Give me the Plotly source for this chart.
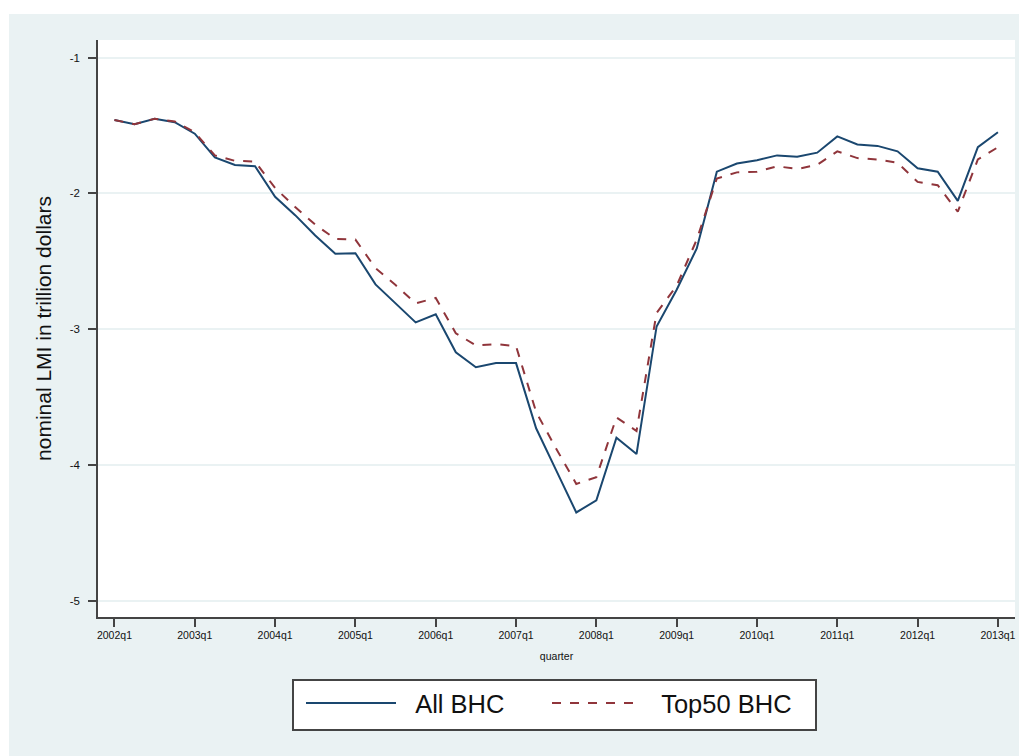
import plotly.graph_objects as go

quarters = [f"{y}q{q}" for y in range(2002, 2014) for q in range(1, 5)][:45]
all_bhc = [-1.46, -1.49, -1.45, -1.475, -1.56, -1.735, -1.79, -1.80, -2.025, -2.16,
           -2.31, -2.445, -2.44, -2.67, -2.81, -2.95, -2.89, -3.17, -3.28, -3.25,
           -3.25, -3.73, -4.04, -4.35, -4.26, -3.80, -3.92, -2.98, -2.71, -2.405,
           -1.84, -1.78, -1.755, -1.72, -1.73, -1.70, -1.58, -1.64, -1.65, -1.69,
           -1.815, -1.84, -2.055, -1.66, -1.55]
top50_bhc = [-1.46, -1.49, -1.45, -1.47, -1.55, -1.72, -1.76, -1.765, -1.96, -2.10,
             -2.23, -2.335, -2.34, -2.55, -2.675, -2.81, -2.77, -3.03, -3.12, -3.11,
             -3.125, -3.61, -3.88, -4.14, -4.09, -3.65, -3.75, -2.88, -2.68, -2.34,
             -1.89, -1.845, -1.84, -1.80, -1.82, -1.79, -1.69, -1.74, -1.75, -1.775,
             -1.915, -1.94, -2.135, -1.75, -1.66]
series_names = ["All BHC", "Top50 BHC"]
xtick_labels = [f"{y}q1" for y in range(2002, 2014)]
ytick_vals = [-1, -2, -3, -4, -5]

x_idx = list(range(len(quarters)))
xtick_pos = [x_idx[quarters.index(t)] for t in xtick_labels]

BG = "#eaf2f3"
REG = "Liberation Sans, Arial, Helvetica, sans-serif"
PAD = "\u00a0\u00a0"

fig = go.Figure()
fig.add_trace(go.Scatter(x=x_idx, y=all_bhc, mode="lines", name=PAD + series_names[0],
                         line=dict(color="#1a476f", width=2)))
fig.add_trace(go.Scatter(x=x_idx, y=top50_bhc, mode="lines", name=PAD + series_names[1],
                         line=dict(color="#90353b", width=2, dash="dash")))

PW, PH, ML, MB = 917, 577, 98, 139

fig.update_layout(
    width=1019, height=756,
    margin=dict(l=ML, r=4, t=40, b=MB),
    paper_bgcolor=BG, plot_bgcolor="white",
    font=dict(family=REG, color="#111"),
    showlegend=True,
    legend=dict(orientation="h", x=(301 - ML) / PW, xanchor="left", y=-0.109, yanchor="top",
                bgcolor="rgba(0,0,0,0)", borderwidth=0,
                font=dict(size=25.5, family=REG, color="#111"),
                itemwidth=90, entrywidth=141, tracegroupgap=0),
    xaxis=dict(range=[-0.82, 44.85], tickvals=xtick_pos, ticktext=xtick_labels,
               showgrid=False, zeroline=False, showline=True, linecolor="#444", linewidth=1.5,
               ticks="outside", ticklen=8, tickcolor="#444", tickwidth=1.5,
               tickfont=dict(size=10.5), mirror=False,
               title=dict(text="quarter", font=dict(size=10.5), standoff=12)),
    yaxis=dict(range=[-5.12, -0.87], tickvals=ytick_vals, ticktext=[str(v) for v in ytick_vals],
               showgrid=True, gridcolor=BG, gridwidth=1.5, zeroline=False,
               showline=True, linecolor="#444", linewidth=1.5,
               ticks="outside", ticklen=8, tickcolor="#444", tickwidth=1.5,
               ticklabelstandoff=6,
               tickfont=dict(size=11.5),
               title=dict(text="nominal LMI in trillion dollars", font=dict(size=21, family=REG),
                          standoff=12)),
    shapes=[
        dict(type="rect", xref="paper", yref="paper", x0=-ML/PW, x1=921/PW,
             y0=1 + 26/PH, y1=1 + 40/PH, fillcolor="white", line_width=0, layer="above"),
        dict(type="rect", xref="paper", yref="paper", x0=-ML/PW, x1=-89/PW,
             y0=-MB/PH, y1=1 + 40/PH, fillcolor="white", line_width=0, layer="above"),
        dict(type="rect", xref="paper", yref="paper", x0=(293 - ML)/PW, x1=(816 - ML)/PW,
             y0=(617 - 730)/PH, y1=(617 - 680)/PH, fillcolor="white",
             line=dict(color="#444", width=2), layer="below"),
    ],
)

fig.write_html("out.html", config={"displayModeBar": False},
               post_script="document.body.style.margin='0';document.body.style.overflow='hidden';")
